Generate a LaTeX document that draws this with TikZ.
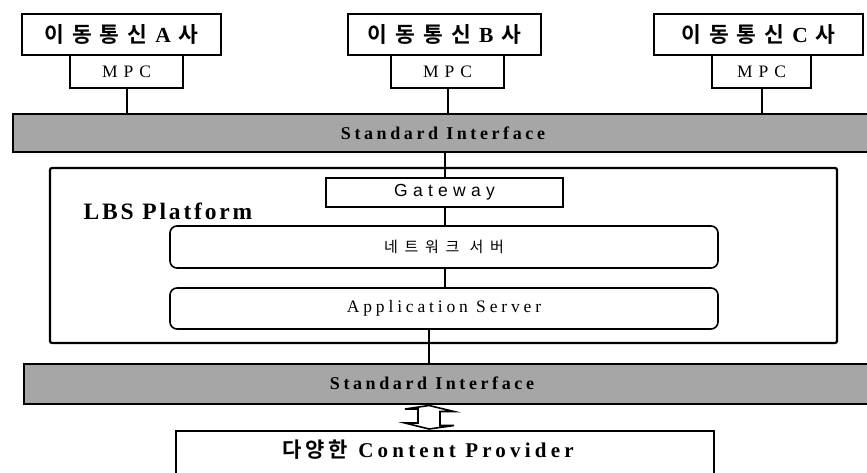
\documentclass[tikz,border=0pt]{standalone}
\usepackage{fontspec}
\setmainfont{Liberation Serif}
\newfontfamily\krb{Noto Sans CJK KR Bold}
\newfontfamily\krr{Noto Sans CJK KR}
\newfontfamily\arialls{Liberation Sans}[LetterSpace=30]
\newfontfamily\serifls{Liberation Serif}[LetterSpace=22]
\newfontfamily\serifbls{Liberation Serif}[LetterSpace=20,UprightFont=* Bold]
\newfontfamily\krrls{Noto Sans CJK KR}[LetterSpace=45]
\newcommand{\gp}{\hspace{8pt}}
\begin{document}
\begin{tikzpicture}[x=1pt,y=-1pt,
  topbox/.style={draw,line width=2.2pt,fill=white,inner sep=0pt,font=\fontsize{21.5}{23}\selectfont},
  mpcbox/.style={draw,line width=1.4pt,fill=white,inner sep=0pt,font=\fontsize{17.5}{19}\selectfont},
  band/.style={draw,line width=1.5pt,fill=gray!70,inner sep=0pt,anchor=north west},
  bandtxt/.style={inner sep=0pt,font=\fontsize{18}{20}\selectfont\serifbls},
  bigbox/.style={draw,line width=2.2pt,inner sep=0pt},
  inbox/.style={draw,line width=1.6pt,fill=white,inner sep=0pt,rounded corners=7pt},
  conn/.style={line width=2pt}]
\useasboundingbox (0,0) rectangle (867,472);

% carriers
\node[topbox,minimum width=199pt,minimum height=41pt] (opA) at (121.5,34.5)
  {{\krb 이\gp 동\gp 통\gp 신}\gp\textbf{A}\gp{\krb 사}};
\node[topbox,minimum width=193pt,minimum height=41pt] (opB) at (444.5,34.5)
  {{\krb 이\gp 동\gp 통\gp 신}\gp\textbf{B}\gp{\krb 사}};
\node[topbox,minimum width=209pt,minimum height=41pt] (opC) at (758.5,34.5)
  {{\krb 이\gp 동\gp 통\gp 신}\gp\textbf{C}\gp{\krb 사}};

\node[mpcbox,minimum width=113pt,minimum height=33pt] (mpcA) at (126.5,71.5) {M\hspace{6pt}P\hspace{6pt}C};
\node[mpcbox,minimum width=113pt,minimum height=33pt] (mpcB) at (447.5,71.5) {M\hspace{6pt}P\hspace{6pt}C};
\node[mpcbox,minimum width=99pt,minimum height=33pt] (mpcC) at (761.5,71.5) {M\hspace{6pt}P\hspace{6pt}C};

% standard interface 1
\node[band,minimum width=870pt,minimum height=38pt] (band1) at (12,113) {};
\node[bandtxt] (si1) at (443,133) {Standard Interface};

\draw[conn] (mpcA.south) -- (mpcA.south |- band1.north);
\draw[conn] (mpcB.south) -- (mpcB.south |- band1.north);
\draw[conn] (mpcC.south) -- (mpcC.south |- band1.north);

% LBS platform
\node[bigbox,rounded corners=2pt,minimum width=787pt,minimum height=175pt] (lbs) at (443.5,255.5) {};
\node[inner sep=0pt,font=\fontsize{23.5}{25}\selectfont\bfseries\addfontfeatures{LetterSpace=12}] (lbst) at (168,211) {LBS Platform};

\node[draw,line width=1.6pt,fill=white,inner sep=0pt,minimum width=237pt,minimum height=29pt,
      font=\fontsize{17.5}{19}\selectfont\arialls] (gw) at (444.5,192.5) {Gateway};
\node[inbox,minimum width=548pt,minimum height=42pt,font=\fontsize{15}{17}\selectfont\krrls] (net) at (444,247) {네트워크 서버};
\node[inbox,minimum width=548pt,minimum height=41pt,font=\fontsize{17.5}{19}\selectfont\serifls] (app) at (444,308.5) {Application Server};

\draw[conn] (band1.south -| gw.north) -- (gw.north);
\draw[conn] (gw.south) -- (gw.south |- net.north);
\draw[conn] (net.south -| gw.south) -- (app.north -| gw.south);

% standard interface 2
\node[band,minimum width=870pt,minimum height=40pt] (band2) at (23,363) {};
\node[bandtxt] (si2) at (432,383) {Standard Interface};

\coordinate (lowx) at (429,0);
\draw[conn] (app.south -| lowx) -- (band2.north -| lowx);

% content provider
\node[bigbox,fill=white,anchor=north west,minimum width=538pt,minimum height=60pt] (cp) at (175,430) {};
\node[inner sep=0pt,font=\fontsize{21}{23}\selectfont] (cpt) at (428,450)
  {{\krb 다\hspace{4pt}양\hspace{4pt}한}\hspace{10pt}{\bfseries\addfontfeatures{LetterSpace=20}Content Provider}};

% hollow double arrow
\coordinate (arrT) at (band2.south -| lowx);
\coordinate (arrB) at (cp.north -| lowx);
\draw[line width=1.6pt,fill=white,line join=miter]
  ([yshift=-1pt]arrT) -- ++(25,6) -- ++(-14,0) -- ++(0,14) -- ++(14,0)
  -- ([yshift=1pt]arrB) -- ++(-24,-6) -- ++(13,0) -- ++(0,-14) -- ++(-13,0) -- cycle;
\end{tikzpicture}
\end{document}
